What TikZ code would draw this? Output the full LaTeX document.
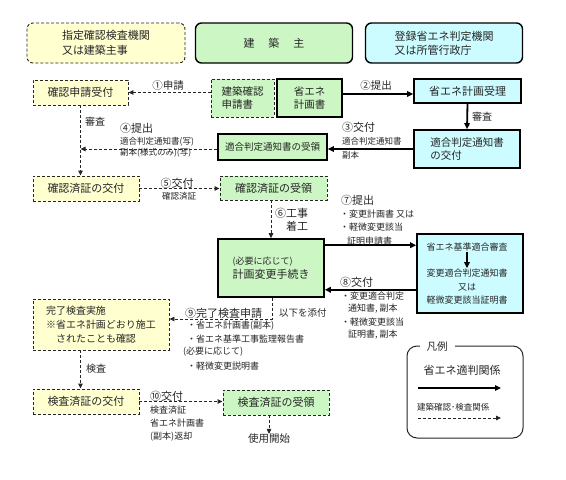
\documentclass[tikz,border=0pt]{standalone}
\usepackage{fontspec}
\newfontfamily\jp{Noto Sans CJK JP}
\usetikzlibrary{arrows.meta,calc}
\definecolor{yfill}{HTML}{FFFFD0}
\definecolor{gfill}{HTML}{CCF7C4}
\definecolor{cfill}{HTML}{CCFCFF}
\definecolor{ink}{HTML}{262626}
\newcommand\jfs[2]{\fontsize{#1}{#2}\selectfont}
\tikzset{
  txt/.style={font=\jp\jfs{11}{13}, text=ink, inner sep=0pt},
  lbl/.style={txt, anchor=west},
  sml/.style={txt, anchor=west, font=\jp\jfs{8.5}{10}},
  ybox/.style={txt, align=center, draw=black!85, line width=0.9pt, dash pattern=on 3pt off 2pt, fill=yfill},
  gdbox/.style={txt, align=center, draw=black!85, line width=0.9pt, dash pattern=on 3pt off 2pt, fill=gfill},
  gbox/.style={txt, align=center, draw=black, line width=1.6pt, fill=gfill},
  cbox/.style={txt, align=center, draw=black, line width=1.6pt, fill=cfill},
  sarr/.style={draw=black, line width=1.8pt, -{Triangle[length=6pt,width=5.5pt]}},
  darr/.style={draw=black!85, line width=0.9pt, dash pattern=on 3pt off 2pt, -{Triangle[length=5pt,width=4.5pt]}},
}
\begin{document}
\begin{tikzpicture}[x=1pt,y=-1pt]
\fill[white] (0,0) rectangle (566,480);
\useasboundingbox (0,0) rectangle (566,480);

% headers
\node[ybox, rounded corners=6pt, minimum width=158, minimum height=40, align=left, font=\jp\jfs{11}{15}] (h1) at (106,43) {指定確認検査機関\\又は建築主事};
\node[gbox, rounded corners=6pt, line width=1.4pt, minimum width=157, minimum height=40] (h2) at (274,43) {建\hspace{14pt}築\hspace{14pt}主};
\node[cbox, rounded corners=6pt, line width=1.4pt, minimum width=157, minimum height=40, align=left, font=\jp\jfs{11}{14}] (h3) at (444,43) {登録省エネ判定機関\\又は所管行政庁};

% row 1
\node[ybox, minimum width=95, minimum height=25] (a1) at (80.5,92.5) {確認申請受付};
\node[gdbox, minimum width=63, minimum height=38, align=left, font=\jp\jfs{10.5}{13}] (b1) at (242.5,98) {建築確認\\申請書};
\node[gbox, minimum width=65, minimum height=38, align=left, font=\jp\jfs{10.5}{13}] (c1) at (309.5,98) {省エネ\\計画書};
\node[cbox, minimum width=107, minimum height=24] (d1) at (467.5,91) {省エネ計画受理};

% row 2
\node[cbox, minimum width=106, minimum height=38, align=left, font=\jp\jfs{10.5}{13}] (d2) at (467,149) {適合判定通知書\\の交付};
\node[gbox, minimum width=109, minimum height=26, font=\jp\jfs{9.5}{11}] (c2) at (272.5,147) {適合判定通知書の受領};

% row 3
\node[ybox, minimum width=106, minimum height=25] (a2) at (86,188.5) {確認済証の交付};
\node[gdbox, minimum width=107, minimum height=24] (b3) at (273.5,188) {確認済証の受領};

% row 4
\node[gbox, minimum width=106, minimum height=58, align=left, font=\jp\jfs{11}{14}] (c4) at (271,268) {{\jfs{9}{14}(必要に応じて)}\\計画変更手続き};
\node[cbox, minimum width=106, minimum height=79] (d4) at (470,273.5) {};
\node[txt, font=\jp\jfs{9}{13.5}] (d4a) at (467,247) {省エネ基準適合審査};
\node[txt, font=\jp\jfs{9}{13.5}, align=center] (d4b) at (467,287) {変更適合判定通知書\\又は\\軽微変更該当証明書};
\draw[sarr, line width=1.4pt, shorten <=1pt, shorten >=1pt] (d4a) -- (d4b);

% lower rows
\node[ybox, minimum width=136, minimum height=51, align=left, font=\jp\jfs{10}{14}] (a3) at (101,324.5) {完了検査実施\\※省エネ計画どおり施工\\\phantom{※}されたことも確認};
\node[ybox, minimum width=106, minimum height=25] (a4) at (86,401.5) {検査済証の交付};
\node[gdbox, minimum width=106, minimum height=25] (b4) at (276,402.5) {検査済証の受領};
\node[txt, font=\jp\jfs{10.5}{12}] (use) at (269,439) {使用開始};

% connectors
\draw[darr] (b1.west |- a1.east) -- (a1.east);
\draw[sarr] ([yshift=4pt]c1.east) -- ([yshift=4pt]c1.east -| d1.west);
\draw[sarr] (d1.south) -- (d2.north);
\draw[sarr] (d2.west) -- (c2.east |- d2.west);
\draw[darr] (c2.west |- d2.west) -- (a1.south |- d2.west);
\draw[darr] (a1.south) -- (a1.south |- a2.north);
\draw[darr] (a2.east) -- (a2.east -| b3.west);
\draw[darr] (c4.north |- b3.south) -- (c4.north);
\coordinate (k7) at ($(c4.north east)+(0,7)$);
\draw[sarr] (k7) -- (k7 -| d4.west);
\coordinate (k8) at ($(c4.south east)+(0,-8)$);
\draw[sarr] (k8 -| d4.west) -- (k8);
\coordinate (k9) at (272,319);
\draw[darr] (c4.south -| k9) -- (k9) -- (k9 -| a3.east);
\draw[darr] (a1.south |- a3.south) -- (a1.south |- a4.north);
\draw[darr] (a4.east) -- (a4.east -| b4.west);
\draw[darr] (use.north |- b4.south) -- (use.north);

% labels
\node[txt, font=\jp\jfs{10.5}{12}] (l1) at (168,86) {①申請};
\node[txt, font=\jp\jfs{10.5}{12}] (l2) at (376,86) {②提出};
\node[lbl, font=\jp\jfs{10}{12}] (ls1) at (472,117) {審査};
\node[lbl, font=\jp\jfs{10}{12}] (ls2) at (85,122) {審査};

\node[lbl] (l3a) at (342,127) {③交付};
\node[sml] (l3b) at (342,141) {適合判定通知書};
\node[sml] (l3c) at (342,155) {副本};

\node[lbl] (l4a) at (120,128) {④提出};
\node[sml] (l4b) at (120,142) {適合判定通知書(写)};
\node[sml] (l4c) at (120,153) {副本(様式のみ)(写)};

\node[txt] (l5a) at (177,183) {⑤交付};
\node[txt, font=\jp\jfs{8.5}{10}] (l5b) at (179,196) {確認済証};

\node[lbl] (l6a) at (275,213) {⑥工事};
\node[lbl] (l6b) at (286,226) {着工};

\node[lbl] (l7a) at (341,200) {⑦提出};
\node[sml, font=\jp\jfs{9}{10}] (l7b) at (340,214) {・変更計画書 又は};
\node[sml, font=\jp\jfs{9}{10}] (l7c) at (340,227) {・軽微変更該当};
\node[sml, font=\jp\jfs{9}{10}] (l7d) at (347,241) {証明申請書};

\node[lbl] (l8a) at (340,282) {⑧交付};
\node[sml, font=\jp\jfs{9}{10}] (l8b) at (341,296) {・変更適合判定};
\node[sml, font=\jp\jfs{9}{10}] (l8c) at (348,309) {通知書, 副本};
\node[sml, font=\jp\jfs{9}{10}] (l8d) at (341,322) {・軽微変更該当};
\node[sml, font=\jp\jfs{9}{10}] (l8e) at (348,335) {証明書, 副本};

\node[lbl] (l9a) at (185,313) {⑨完了検査申請};
\node[lbl, font=\jp\jfs{9.5}{11}] (l9b) at (279,313) {以下を添付};
\node[sml, font=\jp\jfs{9}{10}] (l9c) at (187,326) {・省エネ計画書(副本)};
\node[sml, font=\jp\jfs{9}{10}] (l9d) at (187,339) {・省エネ基準工事監理報告書};
\node[sml, font=\jp\jfs{9}{10}] (l9e) at (183,352) {(必要に応じて)};
\node[sml, font=\jp\jfs{9}{10}] (l9f) at (187,366) {・軽微変更説明書};

\node[lbl, font=\jp\jfs{10}{12}] (ls3) at (86,369) {検査};

\node[lbl] (l10a) at (150,396) {⑩交付};
\node[sml, font=\jp\jfs{9}{10}] (l10b) at (150,410) {検査済証};
\node[sml, font=\jp\jfs{9}{10}] (l10c) at (150,423) {省エネ計画書};
\node[sml, font=\jp\jfs{9}{10}] (l10d) at (150,437) {(副本)返却};

% legend
\node[draw=black!85, line width=1pt, rounded corners=10pt, minimum width=116, minimum height=92, inner sep=0pt] (lg) at (465,392) {};
\node[txt, fill=white, inner xsep=7pt, inner ysep=2pt, font=\jp\jfs{10.5}{12}] (lgt) at (437,347) {凡例};
\node[txt] (lg1) at (462,370) {省エネ適判関係};
\coordinate (lp1) at (418,388);
\coordinate (lq1) at (501,388);
\draw[sarr] (lp1) -- (lq1);
\node[sml] (lg2) at (417,407) {建築確認･検査関係};
\coordinate (lp2) at (418,418);
\coordinate (lq2) at (501,418);
\draw[darr] (lp2) -- (lq2);
\end{tikzpicture}
\end{document}
